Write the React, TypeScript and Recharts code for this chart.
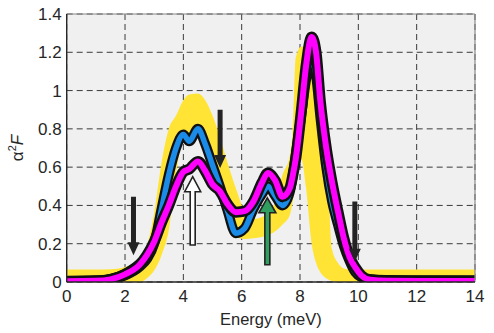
import {
  Area,
  CartesianGrid,
  ComposedChart,
  Label,
  Line,
  ReferenceLine,
  XAxis,
  YAxis,
} from "recharts";

// energy grid (meV) shared by every curve
const energy = [
  0, 1, 1.5, 2, 2.5, 2.75, 3, 3.25, 3.5, 3.75, 4, 4.2, 4.5, 4.75, 5, 5.25, 5.5,
  5.8, 6.1, 6.4, 6.7, 6.9, 7.15, 7.4, 7.65, 7.75, 7.85, 8.05, 8.2, 8.4, 8.55,
  8.7, 8.9, 9.1, 9.3, 9.5, 9.7, 9.9, 10.1, 10.4, 11, 12, 14,
];

// yellow shaded band (lower / upper edge)
const bandLow = [
  0, 0, 0, 0, 0, 0.02, 0.06, 0.14, 0.27, 0.56, 0.74, 0.72, 0.76, 0.68, 0.58,
  0.47, 0.35, 0.235, 0.225, 0.228, 0.235, 0.245, 0.265, 0.3, 0.35, 0.42, 0.52,
  0.64, 0.5, 0.2, 0.1, 0.05, 0.02, 0.005, 0, 0, 0, 0, 0, 0, 0, 0, 0,
];
const bandHigh = [
  0.065, 0.065, 0.066, 0.078, 0.12, 0.19, 0.36, 0.62, 0.8, 0.87, 0.95, 0.98,
  0.985, 0.95, 0.87, 0.76, 0.63, 0.49, 0.37, 0.33, 0.34, 0.355, 0.42, 0.56,
  0.66, 0.8, 1.17, 1.23, 1.225, 1.2, 1.17, 1.14, 0.8, 0.17, 0.1, 0.07, 0.065,
  0.065, 0.065, 0.065, 0.065, 0.065, 0.065,
];

const blueCurve = [
  0.005, 0.008, 0.014, 0.035, 0.08, 0.12, 0.2, 0.38, 0.56, 0.7, 0.77, 0.735,
  0.8, 0.72, 0.61, 0.5, 0.38, 0.255, 0.28, 0.38, 0.46, 0.5, 0.45, 0.4, 0.47,
  0.555, 0.66, 0.88, 1.05, 1.16, 1.08, 0.86, 0.6, 0.42, 0.3, 0.19, 0.11, 0.05,
  0.025, 0.014, 0.01, 0.008, 0.006,
];
const blackCurve = [
  0.015, 0.022, 0.035, 0.065, 0.12, 0.16, 0.25, 0.39, 0.56, 0.7, 0.77, 0.735,
  0.8, 0.72, 0.61, 0.5, 0.38, 0.26, 0.285, 0.38, 0.46, 0.5, 0.45, 0.405, 0.47,
  0.555, 0.66, 0.87, 1.03, 1.12, 1.06, 0.87, 0.62, 0.44, 0.32, 0.2, 0.12, 0.07,
  0.045, 0.032, 0.028, 0.027, 0.027,
];
const magentaCurve = [
  0.004, 0.006, 0.014, 0.04, 0.09, 0.14, 0.21, 0.31, 0.4, 0.5, 0.575, 0.59,
  0.63, 0.58, 0.51, 0.475, 0.41, 0.365, 0.37, 0.42, 0.52, 0.57, 0.53, 0.445,
  0.49, 0.555, 0.64, 0.9, 1.12, 1.28, 1.2, 0.94, 0.7, 0.52, 0.37, 0.23, 0.13,
  0.075, 0.035, 0.012, 0.006, 0.005, 0.005,
];

const xTicks = [0, 2, 4, 6, 8, 10, 12, 14];
const yTicks = [0, 0.2, 0.4, 0.6, 0.8, 1, 1.2, 1.4];

// arrows: energy, tail value, tip value, style
const arrows = [
  { x: 2.29, from: 0.445, to: 0.14, kind: "solid" },
  { x: 5.26, from: 0.9, to: 0.595, kind: "solid" },
  { x: 4.32, from: 0.193, to: 0.55, kind: "hollow" },
  { x: 6.88, from: 0.09, to: 0.44, kind: "green" },
  { x: 9.88, from: 0.42, to: 0.106, kind: "solid" },
];

const data = energy.map((e, i) => ({
  e,
  band: [bandLow[i], bandHigh[i]],
  blue: blueCurve[i],
  black: blackCurve[i],
  magenta: magentaCurve[i],
}));

const font = "'Liberation Sans', Arial, Helvetica, sans-serif";

const arrowStyle: Record<string, { shaft: number; head: number; len: number; fill: string; stroke: string }> = {
  solid: { shaft: 5, head: 12, len: 13, fill: "#232323", stroke: "none" },
  hollow: { shaft: 5, head: 16, len: 15, fill: "#ffffff", stroke: "#232323" },
  green: { shaft: 5, head: 17, len: 15, fill: "#2f9e5f", stroke: "#232323" },
};

const Arrow = (props: any) => {
  const { x1, y1, y2, kind } = props;
  const s = arrowStyle[kind];
  const d = y2 > y1 ? 1 : -1;
  const neck = y2 - d * s.len;
  const path = `M${x1 - s.shaft / 2},${y1} L${x1 - s.shaft / 2},${neck} L${x1 - s.head / 2},${neck} L${x1},${y2} L${x1 + s.head / 2},${neck} L${x1 + s.shaft / 2},${neck} L${x1 + s.shaft / 2},${y1} Z`;
  return (
    <path
      d={path}
      fill={s.fill}
      stroke={s.stroke}
      strokeWidth={s.stroke === "none" ? 0 : 1.6}
      strokeLinejoin="miter"
    />
  );
};

export default function App() {
  return (
    <div style={{ position: "absolute", left: 0, top: 0, width: 494, height: 333, background: "#fff" }}>
      <ComposedChart
        width={494}
        height={333}
        data={data}
        margin={{ top: 14, right: 19, bottom: 0, left: 0 }}
      >
        <CartesianGrid
          stroke="#3a3a3a"
          strokeDasharray="6 4"
          fill="#f0f0f0"
          fillOpacity={1}
        />
        <XAxis
          dataKey="e"
          type="number"
          domain={[0, 14]}
          ticks={xTicks}
          allowDataOverflow
          height={51}
          tickLine={false}
          axisLine={{ stroke: "#262626", strokeWidth: 1.4 }}
          tick={{ fill: "#262626", fontSize: 17, fontFamily: font }}
        >
          <Label
            content={({ viewBox }: any) => (
              <text
                x={viewBox.x + viewBox.width / 2}
                y={viewBox.y + 43}
                textAnchor="middle"
                fill="#262626"
                fontSize={16.5}
                fontFamily={font}
              >
                Energy (meV)
              </text>
            )}
          />
        </XAxis>
        <YAxis
          type="number"
          domain={[0, 1.4]}
          ticks={yTicks}
          allowDataOverflow
          width={66.7}
          tickLine={false}
          tickSize={3}
          tickMargin={2}
          axisLine={{ stroke: "#262626", strokeWidth: 1.4 }}
          tick={{ fill: "#262626", fontSize: 17, fontFamily: font }}
        >
          <Label
            content={({ viewBox }: any) => (
              <text
                transform={`translate(23, ${viewBox.y + viewBox.height / 2}) rotate(-90)`}
                textAnchor="middle"
                fill="#262626"
                fontSize={17}
                fontFamily={font}
              >
                <tspan>α</tspan>
                <tspan dy={-7} fontSize={11}>2</tspan>
                <tspan dy={7} fontStyle="italic">F</tspan>
              </text>
            )}
          />
        </YAxis>

        <Area
          dataKey="band"
          type="monotone"
          stroke="none"
          fill="#ffe435"
          fillOpacity={1}
          isAnimationActive={false}
          activeDot={false}
        />
        <Line dataKey="black" type="monotone" stroke="#111" strokeWidth={2.5} dot={false} activeDot={false} isAnimationActive={false} strokeLinejoin="round" />
        <Line dataKey="blue" type="monotone" stroke="#111" strokeWidth={10} dot={false} activeDot={false} isAnimationActive={false} strokeLinejoin="round" />
        <Line dataKey="blue" type="monotone" stroke="#1a8be6" strokeWidth={5.5} dot={false} activeDot={false} isAnimationActive={false} strokeLinejoin="round" />
        <Line dataKey="magenta" type="monotone" stroke="#111" strokeWidth={11} dot={false} activeDot={false} isAnimationActive={false} strokeLinejoin="round" />
        <Line dataKey="magenta" type="monotone" stroke="#ff00ff" strokeWidth={6} dot={false} activeDot={false} isAnimationActive={false} strokeLinejoin="round" />

        <ReferenceLine y={1.4} stroke="#8a8a8a" strokeWidth={1.2} />
        <ReferenceLine x={14} stroke="#8a8a8a" strokeWidth={1.2} />

        {arrows.map((a, i) => (
          <ReferenceLine
            key={`arrow-${i}`}
            segment={[
              { x: a.x, y: a.from },
              { x: a.x, y: a.to },
            ]}
            ifOverflow="visible"
            shape={(p: any) => <Arrow {...p} kind={a.kind} />}
          />
        ))}
      </ComposedChart>
    </div>
  );
}
